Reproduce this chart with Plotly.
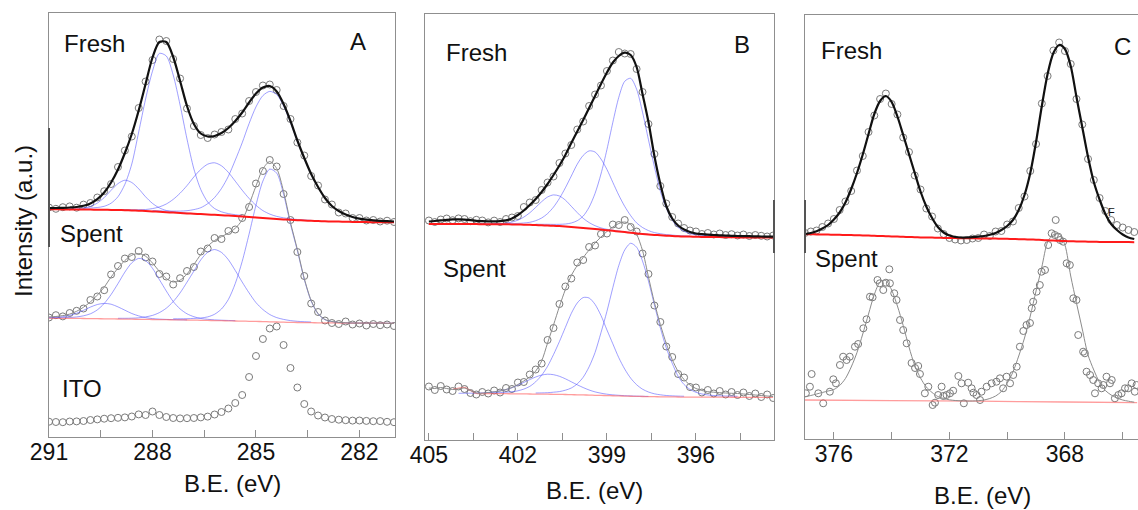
import plotly.graph_objects as go

FONT = "Arial, Liberation Sans, Helvetica, sans-serif"
W, H = 1138, 510

# ---------------- Panel A : C 1s ----------------
be_a = [291.0, 290.8, 290.6, 290.4, 290.2, 290.0, 289.8, 289.6, 289.4, 289.2, 289.0, 288.8, 288.6,
        288.4, 288.2, 288.0, 287.8, 287.6, 287.4, 287.2, 287.0, 286.8, 286.6, 286.4, 286.2, 286.0,
        285.8, 285.6, 285.4, 285.2, 285.0, 284.8, 284.6, 284.4, 284.2, 284.0, 283.8, 283.6, 283.4,
        283.2, 283.0, 282.8, 282.6, 282.4, 282.2, 282.0, 281.8, 281.6, 281.4, 281.2, 281.0]

a_fresh_pts = [229.5, 228.2, 229.8, 230.6, 229.3, 232.4, 234.0, 239.5, 245.8, 253.0, 270.0, 286.5, 300.5,
               329.0, 355.5, 377.0, 397.5, 396.0, 378.0, 358.5, 328.5, 311.0, 302.0, 299.0, 302.5, 305.0,
               307.5, 318.0, 323.5, 336.0, 345.0, 351.5, 352.5, 347.0, 331.0, 318.0, 294.5, 281.5, 261.0,
               251.5, 237.5, 232.5, 224.5, 223.5, 219.0, 219.0, 216.5, 217.0, 215.5, 216.3, 215.0]
a_fresh_fit = [228.8, 229.0, 229.2, 229.5, 230.0, 231.2, 233.5, 237.8, 244.5, 254.5, 267.5, 284.0, 303.0,
               326.5, 353.0, 379.5, 395.0, 395.0, 380.0, 356.0, 331.0, 313.0, 303.5, 300.5, 301.0, 304.0,
               309.0, 316.0, 324.5, 334.5, 343.5, 349.5, 351.0, 345.5, 333.0, 316.0, 296.5, 279.0, 263.0,
               250.0, 239.0, 231.0, 226.0, 222.5, 220.0, 218.3, 217.3, 216.6, 216.1, 215.8, 215.5]
a_fresh_bg = [227.7, 227.7, 227.6, 227.6, 227.5, 227.5, 227.4, 227.3, 227.2, 227.1, 227.0, 226.8, 226.6,
              226.3, 226.0, 225.6, 225.2, 224.8, 224.4, 224.0, 223.6, 223.2, 222.9, 222.5, 222.2, 221.8,
              221.4, 221.0, 220.6, 220.1, 219.6, 219.1, 218.6, 218.1, 217.6, 217.2, 216.8, 216.5, 216.2,
              215.9, 215.7, 215.5, 215.4, 215.2, 215.1, 215.0, 214.9, 214.8, 214.8, 214.7, 214.7]
a_fresh_c1_start = 291.0
a_fresh_c1 = [227.9, 227.9, 227.9, 228.0, 228.1, 228.9, 230.5, 233.9, 239.4, 246.7, 253.4, 256.8, 254.5,
              248.2, 240.2, 233.6, 229.1, 226.5, 225.2, 224.4, 223.9, 223.4, 223.1]
a_fresh_c2_start = 290.0
a_fresh_c2 = [228.8, 229.0, 229.5, 230.7, 233.8, 240.3, 252.7, 273.0, 305.0, 338.0, 365.8, 383.6, 381.0,
              362.0, 332.0, 298.0, 268.0, 247.5, 235.0, 228.5, 225.2, 223.4, 222.3, 221.5]
a_fresh_c3_start = 289.0
a_fresh_c3 = [227.5, 227.4, 227.3, 227.3, 227.5, 228.4, 230.1, 233.0, 237.6, 243.8, 251.4, 260.1, 267.6,
              272.8, 274.2, 271.2, 264.6, 255.8, 246.8, 238.6, 231.7, 226.4, 222.9, 220.6, 219.2, 218.2,
              217.5, 217.0, 216.6]
a_fresh_c4_start = 288.0
a_fresh_c4 = [226.5, 226.2, 225.9, 225.9, 225.9, 226.3, 227.4, 229.3, 233.3, 239.5, 248.5, 260.8, 276.9,
              294.2, 313.4, 330.1, 341.4, 345.6, 342.5, 331.0, 314.5, 295.5, 278.2, 262.4, 249.6, 238.7,
              230.8, 225.9, 222.4, 219.9, 218.2, 217.2, 216.5, 216.0, 215.7, 215.5]

a_spent_pts = [119.5, 121.8, 120.6, 124.0, 126.2, 128.5, 137.0, 140.5, 146.8, 162.5, 171.0, 178.5, 180.0,
               186.0, 179.5, 175.5, 163.0, 160.5, 152.5, 158.8, 166.0, 170.0, 185.5, 188.5, 199.0, 198.0,
               206.0, 207.5, 219.0, 230.0, 253.5, 266.0, 277.0, 270.5, 243.0, 217.0, 185.0, 161.0, 133.5,
               125.0, 116.5, 114.0, 113.0, 115.5, 112.5, 113.5, 111.5, 113.0, 111.8, 112.5, 111.0]
a_spent_fit = [120.1, 120.5, 121.4, 122.9, 125.7, 129.8, 135.1, 141.8, 149.8, 160.0, 168.8, 176.5, 181.8,
               183.5, 180.8, 174.0, 165.6, 158.5, 155.0, 156.8, 163.0, 172.5, 182.5, 190.8, 196.5, 200.3,
               204.0, 208.8, 217.0, 232.5, 251.0, 268.0, 275.5, 268.5, 245.5, 214.5, 187.5, 158.5, 136.5,
               123.5, 117.5, 115.5, 114.6, 114.2, 114.0, 113.9, 113.9, 113.8, 113.8, 113.7, 113.7]
a_spent_bg = [118.8, 118.7, 118.7, 118.6, 118.6, 118.5, 118.4, 118.3, 118.2, 118.1, 118.0, 117.9, 117.8,
              117.7, 117.6, 117.5, 117.4, 117.3, 117.2, 117.1, 117.0, 116.9, 116.7, 116.6, 116.4, 116.3,
              116.2, 116.0, 115.9, 115.7, 115.6, 115.4, 115.2, 115.0, 114.8, 114.6, 114.5, 114.4, 114.3,
              114.2, 114.1, 114.1, 114.0, 114.0, 113.9, 113.9, 113.9, 113.8, 113.8, 113.7, 113.7]
a_spent_c1_start = 291.0
a_spent_c1 = [119.2, 119.55, 120.3, 121.6, 123.75, 126.7, 129.9, 132.5, 133.6, 132.8, 130.1, 126.8, 123.5,
              121.1, 119.4, 118.4, 117.9, 117.6, 117.4, 117.2, 117.1]
a_spent_c2_start = 291.0
a_spent_c2 = [119.3, 119.25, 119.4, 119.5, 120.05, 121.2, 123.2, 127.1, 133.5, 142.5, 153.4, 164.9, 174.2,
              178.6, 176.5, 168.7, 157.4, 146.0, 135.5, 128.1, 123.2, 120.3, 118.5, 117.7, 117.15, 116.8,
              116.55, 116.3]
a_spent_c3_start = 289.0
a_spent_c3 = [118.7, 118.7, 118.8, 119.2, 120.1, 121.6, 124.4, 128.8, 135.4, 144.1, 154.8, 165.9, 177.1,
              184.8, 187.45, 184.6, 177.25, 166.5, 154.95, 144.1, 134.4, 127.5, 122.5, 119.4, 117.6, 116.4,
              115.7, 115.3, 115.0]
a_spent_c4_start = 287.4
a_spent_c4 = [118.2, 118.2, 118.3, 118.6, 119.0, 120.1, 122.75, 128.0, 137.55, 153.5, 175.55, 202.9, 231.9,
              255.9, 267.9, 263.9, 242.7, 212.7, 186.3, 157.6, 135.8, 123.0, 117.3, 115.4, 114.5, 114.15,
              113.95, 113.9, 113.85, 113.8, 113.8, 113.75, 113.7]

a_ito_pts = [15.3, 15.0, 14.8, 15.5, 15.6, 16.0, 17.0, 17.6, 18.3, 18.8, 19.2, 19.6, 20.5, 22.6, 22.0,
             25.5, 22.0, 20.0, 19.0, 18.6, 18.8, 19.0, 19.6, 20.4, 22.5, 25.0, 28.5, 34.0, 42.0, 60.0,
             81.0, 98.0, 108.5, 110.5, 92.0, 69.0, 49.5, 33.0, 25.5, 21.5, 19.5, 18.0, 17.3, 16.8, 16.4,
             16.5, 16.1, 15.8, 15.9, 15.2, 14.8]

# ---------------- Panel B : N 1s ----------------
be_b = [405.0, 404.8, 404.6, 404.4, 404.2, 404.0, 403.8, 403.6, 403.4, 403.2, 403.0, 402.8, 402.6,
        402.4, 402.2, 402.0, 401.8, 401.6, 401.4, 401.2, 401.0, 400.8, 400.6, 400.4, 400.2, 400.0,
        399.8, 399.6, 399.4, 399.2, 399.0, 398.8, 398.6, 398.4, 398.2, 398.0, 397.8, 397.6, 397.4,
        397.2, 397.0, 396.8, 396.6, 396.4, 396.2, 396.0, 395.8, 395.6, 395.4, 395.2, 395.0, 394.8,
        394.6, 394.4, 394.2, 394.0, 393.8, 393.6, 393.4]

b_fresh_pts = [219.5, 218.0, 220.5, 221.5, 219.8, 221.6, 221.0, 218.8, 220.2, 219.5, 217.6, 219.4, 218.0,
               221.0, 222.5, 224.0, 233.0, 237.5, 240.0, 250.0, 257.5, 263.5, 277.0, 286.5, 295.0, 310.5,
               318.5, 334.0, 345.5, 354.5, 369.0, 379.5, 388.0, 386.5, 386.0, 371.0, 348.0, 316.0, 286.0,
               254.0, 236.5, 223.0, 216.5, 212.0, 209.5, 208.5, 206.0, 207.0, 205.5, 206.5, 205.0, 205.8,
               204.5, 205.5, 204.0, 205.0, 204.2, 203.5, 204.5]
b_fresh_fit = [218.5, 219.0, 219.6, 220.2, 220.6, 220.6, 220.3, 219.8, 219.2, 218.8, 218.6, 218.6, 218.9,
               219.6, 221.5, 225.0, 229.5, 235.0, 241.0, 248.0, 256.0, 265.0, 274.5, 285.0, 297.0, 308.5,
               320.0, 332.0, 344.0, 356.0, 367.5, 377.5, 384.0, 387.3, 385.0, 373.0, 346.0, 318.0, 284.0,
               256.0, 234.0, 221.5, 214.5, 210.5, 208.0, 206.5, 205.8, 205.3, 205.0, 204.7, 204.4, 204.2,
               204.0, 203.9, 203.8, 203.6, 203.5, 203.4, 203.3]
b_fresh_bg = [216.0, 216.0, 216.0, 216.0, 216.0, 216.0, 216.0, 215.9, 215.9, 215.8, 215.8, 215.8, 215.7,
              215.7, 215.6, 215.5, 215.3, 215.2, 215.0, 214.7, 214.5, 214.2, 213.9, 213.5, 213.0, 212.6,
              212.1, 211.6, 211.0, 210.4, 209.8, 209.2, 208.5, 207.9, 207.2, 206.6, 206.1, 205.6, 205.1,
              204.7, 204.3, 204.0, 203.7, 203.5, 203.4, 203.2, 203.1, 203.0, 203.0, 202.9, 202.8, 202.7,
              202.6, 202.6, 202.5, 202.5, 202.5, 202.4, 202.4]
b_fresh_c1_start = 403.6
b_fresh_c1 = [216.1, 216.1, 216.1, 216.1, 216.2, 216.3, 216.9, 217.9, 219.8, 222.9, 227.2, 232.6, 238.3,
              243.0, 245.1, 244.0, 239.9, 233.7, 227.4, 221.7, 217.4, 214.3, 212.1, 210.7, 209.8, 208.9,
              208.2, 207.5, 206.8, 206.3, 205.8]
b_fresh_c2_start = 402.8
b_fresh_c2 = [216.25, 216.2, 216.3, 216.4, 216.6, 217.0, 217.7, 219.3, 222.0, 226.4, 232.9, 241.6, 252.2,
              264.0, 275.8, 284.6, 289.1, 288.0, 281.0, 270.6, 257.6, 244.8, 233.6, 224.4, 217.1, 212.5,
              209.4, 207.4, 206.3, 205.4, 204.9, 204.4, 204.1, 203.8]
b_fresh_c3_start = 401.4
b_fresh_c3 = [215.8, 215.7, 215.7, 215.6, 215.7, 216.0, 217.0, 219.3, 223.9, 232.8, 246.6, 266.0, 290.4,
              317.7, 342.7, 358.7, 361.7, 350.8, 327.8, 300.2, 273.3, 248.9, 231.9, 220.0, 212.5, 208.6,
              206.4, 205.2, 204.7, 204.25, 204.0, 203.9, 203.7, 203.55, 203.5]

b_spent_pts = [53.5, 50.0, 54.0, 50.5, 49.0, 53.5, 51.0, 47.0, 45.5, 48.0, 46.5, 49.5, 47.5, 52.0, 51.0,
               57.5, 58.0, 65.5, 70.5, 76.5, 100.0, 112.0, 136.0, 153.5, 161.5, 177.5, 180.0, 193.0, 194.5,
               206.0, 206.5, 215.5, 215.0, 220.0, 213.0, 208.5, 186.5, 166.0, 134.5, 118.0, 93.5, 83.0,
               66.0, 62.5, 53.0, 52.5, 47.5, 50.0, 46.5, 49.0, 45.5, 48.0, 45.0, 47.5, 44.0, 46.5, 43.0,
               45.5, 42.0]
b_spent_fit = [52.0, 51.5, 52.5, 51.5, 50.5, 51.0, 52.0, 49.5, 47.0, 46.8, 47.5, 48.2, 49.0, 50.5, 52.5,
               55.5, 59.0, 63.0, 69.0, 79.0, 97.0, 115.0, 133.5, 150.5, 164.5, 174.5, 182.5, 190.0, 197.0,
               203.0, 208.5, 213.0, 216.5, 218.0, 215.5, 206.0, 189.5, 163.0, 137.5, 115.5, 96.5, 80.5,
               68.5, 60.5, 55.0, 51.5, 49.5, 48.3, 47.8, 47.3, 47.0, 46.7, 46.5, 46.0, 45.5, 45.0, 44.5,
               44.0, 43.5]
b_spent_bg = [None, None, None, None, 50.7, 51.8, 52.5, 49.5, 46.6, 46.5, 46.4, 46.4, 46.3, 46.3, 46.2,
              46.2, 46.1, 46.0, 45.9, 45.85, 45.8, 45.7, 45.6, 45.5, 45.3, 45.2, 45.05, 44.9, 44.7, 44.6,
              44.4, 44.25, 44.1, 43.9, 43.75, 43.6, 43.5, 43.4, 43.3, 43.2, 43.1, 43.05, 43.0, 42.95, 42.9,
              42.9, 42.85, 42.85, 42.8, 42.8, 42.8, 42.75, 42.75, 42.7, 42.7, 42.7, 42.7, 42.7, 42.7]
b_spent_c1_start = 404.0
b_spent_c1 = [46.7, 46.75, 46.8, 46.95, 47.1, 47.5, 48.1, 49.1, 50.5, 52.2, 54.8, 57.6, 60.4, 63.0, 64.9,
              65.8, 65.3, 63.7, 61.2, 58.2, 55.2, 52.45, 50.0, 48.1, 46.8, 45.8, 45.15, 44.7, 44.3, 44.05,
              43.85, 43.7, 43.6]
b_spent_c2_start = 403.0
b_spent_c2 = [47.2, 47.3, 47.4, 47.8, 48.2, 49.2, 50.9, 53.6, 58.2, 64.75, 73.7, 85.4, 98.5, 112.6, 126.6,
              137.0, 142.45, 142.0, 135.6, 124.5, 110.1, 96.15, 82.3, 70.9, 61.85, 55.3, 50.8, 48.0, 46.2,
              45.2, 44.5, 44.15, 43.9, 43.75]
b_spent_c3_start = 401.4
b_spent_c3 = [47.0, 47.1, 47.3, 47.8, 48.4, 49.8, 52.0, 56.1, 62.75, 73.2, 87.5, 107.3, 128.6, 152.45,
              174.5, 190.0, 196.75, 192.8, 178.9, 158.9, 135.1, 112.1, 92.1, 76.75, 63.7, 55.45, 50.6, 47.7,
              46.05, 45.05, 44.5, 44.2, 44.0, 43.85, 43.75]

# ---------------- Panel C : In 3d ----------------
be_c = [377.0, 376.8, 376.6, 376.4, 376.2, 376.0, 375.8, 375.6, 375.4, 375.2, 375.0, 374.8, 374.6,
        374.4, 374.2, 374.0, 373.8, 373.6, 373.4, 373.2, 373.0, 372.8, 372.6, 372.4, 372.2, 372.0,
        371.8, 371.6, 371.4, 371.2, 371.0, 370.8, 370.6, 370.4, 370.2, 370.0, 369.8, 369.6, 369.4,
        369.2, 369.0, 368.8, 368.6, 368.4, 368.2, 368.0, 367.8, 367.6, 367.4, 367.2, 367.0, 366.8,
        366.6, 366.4, 366.2, 366.0, 365.8, 365.6]

c_fresh_pts = [206.0, 207.5, 208.5, 212.0, 215.5, 220.0, 229.0, 237.5, 248.0, 268.5, 283.0, 307.0, 323.5,
               340.0, 345.5, 335.0, 324.5, 301.5, 287.0, 263.5, 249.5, 230.5, 222.5, 210.5, 205.0, 201.0,
               199.5, 198.5, 199.0, 200.5, 201.0, 204.5, 203.0, 207.5, 208.0, 214.5, 217.5, 231.0, 242.5,
               268.0, 295.0, 335.5, 363.0, 388.5, 396.5, 388.0, 375.0, 340.0, 314.5, 280.0, 259.0, 241.0,
               228.0, 219.0, 214.0, 211.5, 209.0, 207.0]
c_fresh_fit = [205.0, 206.0, 207.8, 210.5, 214.0, 219.5, 226.5, 236.5, 250.0, 266.0, 284.5, 305.0, 325.0,
               338.0, 343.0, 337.0, 322.5, 304.0, 285.0, 266.0, 247.5, 232.5, 221.0, 212.0, 206.5, 203.5,
               202.0, 201.5, 201.5, 201.8, 202.3, 203.0, 204.2, 206.0, 209.0, 213.0, 219.0, 229.0, 244.0,
               266.0, 297.0, 333.0, 365.0, 386.0, 394.0, 390.0, 373.0, 342.0, 312.0, 282.0, 257.0, 239.5,
               225.0, 215.0, 209.0, 204.5, 201.5, 200.0]
c_fresh_bg = [204.8, 204.7, 204.6, 204.5, 204.4, 204.3, 204.2, 204.0, 203.9, 203.7, 203.6, 203.4, 203.2,
              203.0, 202.8, 202.6, 202.4, 202.2, 202.0, 201.8, 201.6, 201.5, 201.4, 201.2, 201.1, 201.0,
              200.9, 200.8, 200.8, 200.7, 200.6, 200.5, 200.4, 200.4, 200.3, 200.2, 200.0, 199.8, 199.7,
              199.5, 199.3, 199.0, 198.7, 198.5, 198.2, 197.9, 197.8, 197.6, 197.5, 197.3, 197.2, 197.1,
              197.1, 197.0, 197.0, 196.9, 196.9, 196.8]

c_spent_be = [376.97, 376.83, 376.77, 376.54, 376.37, 376.14, 376.02, 375.93, 375.79, 375.68, 375.56,
              375.45, 375.27, 375.16, 374.98, 374.87, 374.75, 374.66, 374.49, 374.41, 374.29, 374.20,
              374.08, 374.06, 373.91, 373.83, 373.71, 373.60, 373.48, 373.31, 373.19, 373.08, 373.02,
              372.85, 372.73, 372.58, 372.50, 372.39, 372.27, 372.21, 372.10, 371.98, 371.87, 371.69,
              371.58, 371.50, 371.35, 371.23, 371.17, 371.06, 370.94, 370.89, 370.71, 370.54, 370.37,
              370.25, 370.14, 370.02, 369.90, 369.79, 369.67, 369.56, 369.44, 369.33, 369.21, 369.15,
              369.10, 368.98, 368.87, 368.81, 368.69, 368.58, 368.46, 368.35, 368.32, 368.23, 368.17,
              368.06, 367.94, 367.83, 367.71, 367.60, 367.54, 367.37, 367.31, 367.25, 367.13, 367.02,
              366.96, 366.85, 366.73, 366.67, 366.56, 366.44, 366.38, 366.27, 366.15, 366.04, 365.92,
              365.81, 365.69, 365.58, 365.52]
c_spent_pts = [45.7, 52.3, 65.0, 45.7, 35.7, 47.3, 59.7, 55.7, 74.0, 82.3, 79.0, 82.3, 92.3, 95.0, 110.7,
               119.7, 142.3, 141.7, 159.0, 155.7, 149.0, 156.3, 169.7, 155.7, 145.7, 139.0, 119.0, 109.0,
               95.7, 76.0, 71.0, 73.0, 65.0, 45.7, 52.3, 34.0, 36.3, 44.0, 52.3, 43.0, 44.0, 45.7, 48.3,
               63.0, 55.7, 35.7, 56.3, 50.7, 46.3, 44.0, 39.0, 47.3, 52.3, 55.7, 57.3, 60.7, 50.7, 62.3,
               55.7, 64.0, 72.3, 92.3, 108.0, 114.0, 116.0, 130.7, 137.3, 147.3, 154.0, 167.3, 169.0,
               194.0, 205.7, 204.0, 219.0, 202.3, 199.0, 197.3, 175.7, 174.0, 140.7, 139.0, 104.0, 87.3,
               85.7, 67.3, 64.0, 59.0, 45.7, 55.7, 50.7, 54.0, 62.3, 55.7, 59.0, 40.7, 44.0, 45.7, 50.7,
               50.7, 55.7, 47.3, 54.0]
c_spent_fit = [42.3, 43.5, 45.0, 46.5, 48.0, 49.5, 53.5, 60.5, 72.0, 86.5, 105.0, 125.0, 144.5, 157.0,
               158.5, 149.0, 133.0, 113.5, 92.0, 73.5, 61.0, 52.0, 46.5, 42.5, 40.5, 39.2, 38.5, 38.2, 38.0,
               38.0, 38.3, 39.0, 40.5, 43.0, 47.5, 55.7, 67.0, 83.0, 101.0, 123.0, 148.0, 172.0, 197.0,
               204.5, 205.0, 194.0, 163.0, 136.0, 110.0, 84.0, 69.0, 56.5, 48.5, 44.0, 41.0, 39.0, 37.8,
               36.8]
c_spent_bg_be = [377.0, 374.0, 371.0, 368.0, 365.5]
c_spent_bg = [39.0, 38.4, 37.8, 37.0, 36.3]

# sanity checks on series lengths
for arr in (a_fresh_pts, a_fresh_fit, a_fresh_bg, a_spent_pts, a_spent_fit, a_spent_bg, a_ito_pts):
    assert len(arr) == len(be_a), len(arr)
for arr in (b_fresh_pts, b_fresh_fit, b_fresh_bg, b_spent_pts, b_spent_fit, b_spent_bg):
    assert len(arr) == len(be_b), len(arr)
for arr in (c_fresh_pts, c_fresh_fit, c_fresh_bg, c_spent_fit):
    assert len(arr) == len(be_c), len(arr)
assert len(c_spent_be) == len(c_spent_pts)

# ---------------- styling ----------------
PT_COL = "#7a7a7a"
COMP_COL = "rgba(80,80,255,0.55)"
FIT_FRESH = "#111111"
BG_FRESH = "#ff1a1a"
FIT_SPENT = "#8c8c8c"
BG_SPENT = "rgba(255,90,90,0.6)"
AX_COL = "#8f8f8f"

fig = go.Figure()


def seg(grid, start, vals):
    i = grid.index(start)
    return grid[i:i + len(vals)]


def add_pts(x, y, ax):
    fig.add_trace(go.Scatter(x=x, y=y, mode="markers", xaxis="x" + ax, yaxis="y" + ax,
                             marker=dict(symbol="circle-open", size=7, color=PT_COL,
                                         line=dict(width=1, color=PT_COL)),
                             showlegend=False, hoverinfo="skip"))


def add_line(x, y, ax, color, width, smooth=0.8):
    fig.add_trace(go.Scatter(x=x, y=y, mode="lines", xaxis="x" + ax, yaxis="y" + ax,
                             line=dict(color=color, width=width, shape="spline", smoothing=smooth),
                             showlegend=False, hoverinfo="skip"))


# Panel A
add_pts(be_a, a_fresh_pts, "")
add_pts(be_a, a_spent_pts, "")
add_pts(be_a, a_ito_pts, "")
for st, comp in ((a_fresh_c1_start, a_fresh_c1), (a_fresh_c2_start, a_fresh_c2),
                 (a_fresh_c3_start, a_fresh_c3), (a_fresh_c4_start, a_fresh_c4),
                 (a_spent_c1_start, a_spent_c1), (a_spent_c2_start, a_spent_c2),
                 (a_spent_c3_start, a_spent_c3), (a_spent_c4_start, a_spent_c4)):
    add_line(seg(be_a, st, comp), comp, "", COMP_COL, 1)
add_line(be_a, a_spent_bg, "", BG_SPENT, 1.3)
add_line(be_a, a_spent_fit, "", FIT_SPENT, 1)
add_line(be_a, a_fresh_bg, "", BG_FRESH, 2)
add_line(be_a, a_fresh_fit, "", FIT_FRESH, 2.2)

# Panel B
add_pts(be_b, b_fresh_pts, "2")
add_pts(be_b, b_spent_pts, "2")
for st, comp in ((b_fresh_c1_start, b_fresh_c1), (b_fresh_c2_start, b_fresh_c2),
                 (b_fresh_c3_start, b_fresh_c3), (b_spent_c1_start, b_spent_c1),
                 (b_spent_c2_start, b_spent_c2), (b_spent_c3_start, b_spent_c3)):
    add_line(seg(be_b, st, comp), comp, "2", COMP_COL, 1)
add_line(be_b, b_spent_bg, "2", BG_SPENT, 1.3)
add_line(be_b, b_spent_fit, "2", FIT_SPENT, 1)
add_line(be_b, b_fresh_bg, "2", BG_FRESH, 2)
add_line(be_b, b_fresh_fit, "2", FIT_FRESH, 2.2)

# Panel C
add_pts(be_c, c_fresh_pts, "3")
add_pts(c_spent_be, c_spent_pts, "3")
add_line(c_spent_bg_be, c_spent_bg, "3", BG_SPENT, 1.3)
add_line(be_c, c_spent_fit, "3", FIT_SPENT, 1)
add_line(be_c, c_fresh_bg, "3", BG_FRESH, 2)
add_line(be_c, c_fresh_fit, "3", FIT_FRESH, 2.2)

tickfont = dict(family=FONT, size=23, color="#111111")


def xaxis(dom, rng, anchor, t0, dt, mdt):
    return dict(domain=dom, range=rng, anchor=anchor, automargin=False, showline=True, mirror=True,
                linecolor=AX_COL, linewidth=1.3, showgrid=False, zeroline=False,
                ticks="inside", ticklen=7, tickwidth=1.2, tickcolor=AX_COL,
                tickmode="linear", tick0=t0, dtick=dt, tickfont=tickfont, ticklabelstandoff=-6,
                minor=dict(ticks="inside", ticklen=7, tickwidth=1.2, tickcolor=AX_COL,
                           tick0=t0, dtick=mdt, showgrid=False))


def yaxis(dom, top, anchor, mirror=True):
    return dict(domain=dom, range=[0, top], anchor=anchor, automargin=False, showline=True,
                mirror=mirror, linecolor=AX_COL, linewidth=1.3, showgrid=False, zeroline=False,
                ticks="", showticklabels=False)


fig.update_layout(
    width=W, height=H, autosize=False,
    margin=dict(l=0, r=0, t=0, b=0, autoexpand=False),
    paper_bgcolor="white", plot_bgcolor="white",
    font=dict(family=FONT, color="#111111"),
    xaxis=xaxis([49 / W, 395 / W], [291.0, 280.97], "y", 291, 3, 1.5),
    yaxis=yaxis([(H - 437) / H, (H - 13) / H], 424, "x"),
    xaxis2=xaxis([425 / W, 774 / W], [405.13, 393.37], "y2", 405, 3, 1.5),
    yaxis2=yaxis([(H - 440) / H, (H - 14) / H], 426, "x2"),
    xaxis3=xaxis([805 / W, 1.0], [377.0, 365.47], "y3", 376, 4, 2),
    yaxis3=yaxis([(H - 439) / H, (H - 15) / H], 424, "x3", mirror=False),
    hovermode=False,
)


def label(text, px, py, size=24, angle=0):
    fig.add_annotation(text=text, x=px / W, y=1 - py / H, xref="paper", yref="paper",
                       showarrow=False, xanchor="center", yanchor="middle", textangle=angle,
                       font=dict(family=FONT, size=size, color="#111111"))


label("Fresh", 94, 43)
label("A", 358, 41)
label("Spent", 91, 234)
label("ITO", 82, 388)
label("Fresh", 477, 53)
label("B", 742, 44)
label("Spent", 474, 268)
label("Fresh", 851, 51)
label("C", 1122, 46)
label("Spent", 846, 258)
label("F", 1111, 212, size=11)
label("B.E. (eV)", 232, 483, size=24)
label("B.E. (eV)", 594, 490, size=24)
label("B.E. (eV)", 982, 495, size=24)
label("Intensity (a.u.)", 23, 221, size=24, angle=-90)

# darker axis segments visible on the original frames
for (px, y0, y1) in ((49, 128, 247), (774, 200, 253), (805, 200, 253)):
    fig.add_shape(type="line", xref="paper", yref="paper", x0=px / W, x1=px / W,
                  y0=1 - y0 / H, y1=1 - y1 / H, line=dict(color="#555555", width=2))

fig.write_html("out.html")
